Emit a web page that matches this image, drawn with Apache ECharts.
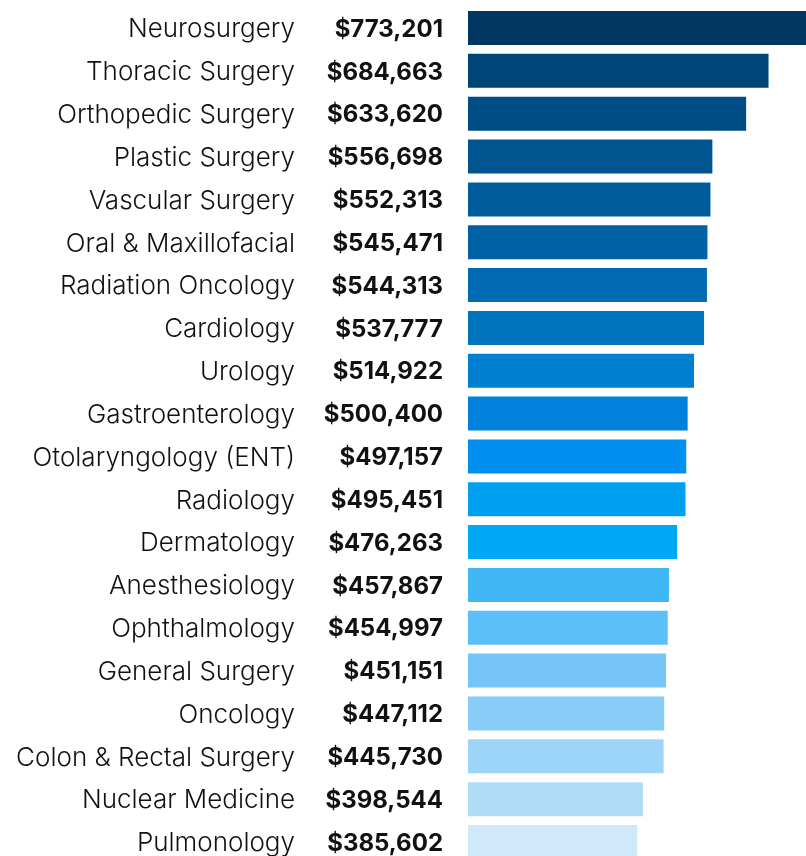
<!DOCTYPE html>
<html>
<head>
<meta charset="utf-8">
<script src="https://cdn.jsdelivr.net/npm/echarts@6/dist/echarts.min.js"></script>
<style>
  html, body { margin: 0; padding: 0; background: #fff; }
  #chart { width: 806px; height: 856px; }
</style>
</head>
<body>
<div id="chart"></div>
<script>
const specialties = [
  'Neurosurgery', 'Thoracic Surgery', 'Orthopedic Surgery', 'Plastic Surgery',
  'Vascular Surgery', 'Oral & Maxillofacial', 'Radiation Oncology', 'Cardiology',
  'Urology', 'Gastroenterology', 'Otolaryngology (ENT)', 'Radiology',
  'Dermatology', 'Anesthesiology', 'Ophthalmology', 'General Surgery',
  'Oncology', 'Colon & Rectal Surgery', 'Nuclear Medicine', 'Pulmonology'
];
const salaries = [
  773201, 684663, 633620, 556698, 552313, 545471, 544313, 537777, 514922, 500400,
  497157, 495451, 476263, 457867, 454997, 451151, 447112, 445730, 398544, 385602
];
const barColors = [
  '#023761', '#004577', '#004d85', '#005490', '#005c9a', '#0062a5', '#006ab2',
  '#0073bd', '#0080d0', '#0082dc', '#008ef0', '#00a0f0', '#00a8f5', '#42b7f5',
  '#5bc0f8', '#75c5f8', '#88ccf8', '#9dd4f9', '#b1ddf9', '#d0e9fa'
];

const fmt = v => '$' + v.toLocaleString('en-US');

const chart = echarts.init(document.getElementById('chart'));
chart.setOption({
  animation: false,
  grid: { left: 468, right: 0, top: 6.6, height: 856.8, outerBoundsMode: 'none' },
  xAxis: {
    type: 'value',
    min: 0,
    max: 770000,
    show: false
  },
  yAxis: {
    type: 'category',
    inverse: true,
    data: specialties,
    axisLine: { show: false },
    axisTick: { show: false },
    axisLabel: {
      margin: 25,
      formatter: (name, i) => '{a|' + name + '}{b|' + fmt(salaries[i]) + '}',
      rich: {
        a: { fontFamily: 'Inter', fontWeight: 300, fontSize: 26, color: '#111',
             padding: [3, 0, 0, 0] },
        b: { fontFamily: 'Inter', fontWeight: 'bold', fontSize: 24, color: '#111',
             width: 148, align: 'right', padding: [3, 0, 0, 0] }
      }
    }
  },
  series: [{
    type: 'bar',
    barWidth: 34,
    data: salaries.map((v, i) => ({ value: v, itemStyle: { color: barColors[i] } }))
  }]
});
</script>
</body>
</html>
